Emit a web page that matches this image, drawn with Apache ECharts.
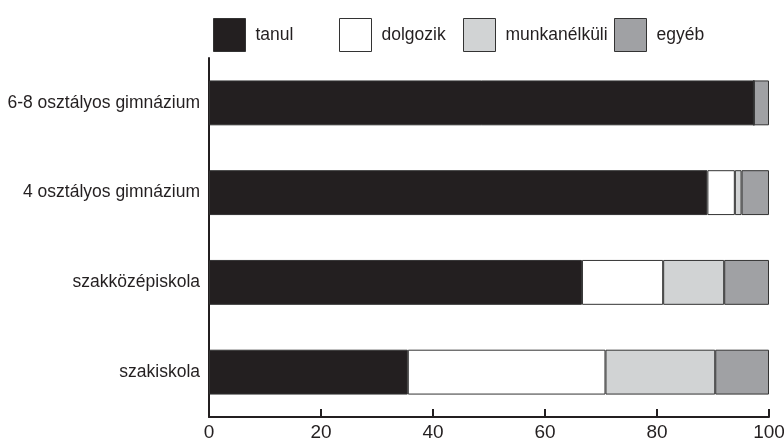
<!DOCTYPE html>
<html>
<head>
<meta charset="utf-8">
<script src="https://cdn.jsdelivr.net/npm/echarts@6/dist/echarts.min.js"></script>
<style>html,body{margin:0;padding:0;background:#fff}#c{width:784px;height:444px}</style>
</head>
<body>
<div id="c"></div>
<script>
const categories = ['szakiskola', 'szakközépiskola', '4 osztályos gimnázium', '6-8 osztályos gimnázium'];
const seriesNames = ['tanul', 'dolgozik', 'munkanélküli', 'egyéb'];
const tanul = [35.5, 66.6, 89.0, 97.3];
const dolgozik = [35.3, 14.5, 4.9, 0];
const munkanelkuli = [19.6, 10.9, 1.2, 0];
const egyeb = [9.6, 8.0, 4.9, 2.7];
const xTicks = [0, 20, 40, 60, 80, 100];

const colors = ['#231f20', '#ffffff', '#d1d3d4', '#a0a1a4'];
const values = [tanul, dolgozik, munkanelkuli, egyeb];
const legendLefts = [208, 334, 458, 609];
const FONT = '"Liberation Sans", Arial, sans-serif';

const chart = echarts.init(document.getElementById('c'), null, {renderer: 'canvas'});
chart.setOption({
  animation: false,
  textStyle: {fontFamily: FONT},
  legend: seriesNames.map((n, i) => ({
    left: legendLefts[i], top: 13,
    itemWidth: 32, itemHeight: 33,
    icon: 'rect',
    textStyle: {fontFamily: FONT, fontSize: 17.5, color: '#231f20', padding: [0, 0, 0, 5]},
    data: [{name: n, itemStyle: {color: colors[i], borderColor: '#333', borderWidth: 1}}]
  })),
  grid: {left: 209, right: 15, top: 58, bottom: 27, containLabel: false, outerBoundsMode: 'none'},
  xAxis: {
    type: 'value', min: 0, max: 100, interval: 20,
    axisLine: {show: true, lineStyle: {color: '#231f20', width: 2}},
    axisTick: {show: true, inside: true, length: 8, lineStyle: {color: '#231f20', width: 2}},
    splitLine: {show: false},
    axisLabel: {fontFamily: FONT, fontSize: 19, color: '#231f20', margin: 6,
      formatter: v => xTicks.includes(v) ? String(v) : ''}
  },
  yAxis: {
    type: 'category', data: categories,
    axisLine: {show: true, lineStyle: {color: '#231f20', width: 2}},
    axisTick: {show: false},
    axisLabel: {fontFamily: FONT, fontSize: 17.5, color: '#231f20', margin: 9}
  },
  series: seriesNames.map((n, i) => ({
    name: n, type: 'bar', stack: 'total', barWidth: '50%',
    itemStyle: {color: colors[i], borderColor: '#333', borderWidth: 1},
    data: values[i]
  }))
});
</script>
</body>
</html>
